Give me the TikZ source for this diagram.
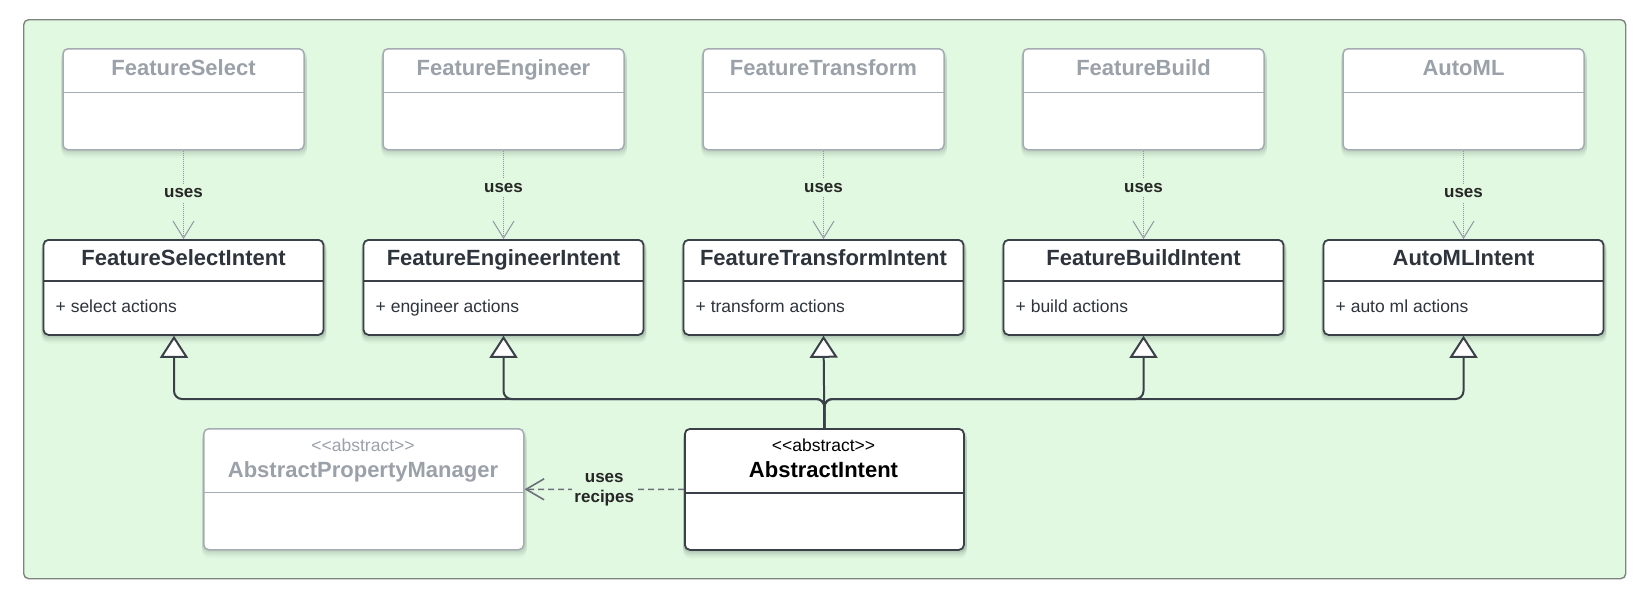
\documentclass[tikz,border=0pt]{standalone}
\usepackage{fontspec}
\setmainfont{Liberation Sans}
\usetikzlibrary{arrows.meta}
\definecolor{bggreen}{HTML}{E1F8E1}
\definecolor{framegray}{HTML}{7F8480}
\definecolor{darkline}{HTML}{3A4048}
\definecolor{lightline}{HTML}{A5ABB2}
\definecolor{titledark}{HTML}{2E343C}
\definecolor{titlegray}{HTML}{9BA1A9}
\definecolor{depgray}{HTML}{9197A0}
\definecolor{dashgray}{HTML}{6B7079}
\definecolor{shadowcol}{HTML}{34483C}
\newcommand{\stereotxt}{<\kern0pt<abstract>\kern0pt>}
\pgfdeclarelayer{bottom}
\pgfdeclarelayer{shadowlayer}
\pgfsetlayers{bottom,shadowlayer,main}
\begin{document}
\begin{tikzpicture}[x=1pt,y=-1pt,
  frame/.style={draw=framegray, line width=1.4pt, fill=bggreen, rounded corners=5pt, inner sep=0pt},
  topbox/.style={draw=lightline, line width=1.5pt, fill=white, rounded corners=5pt, inner sep=0pt,
     minimum width=241pt, minimum height=101pt},
  intbox/.style={draw=darkline, line width=1.8pt, fill=white, rounded corners=5pt, inner sep=0pt,
     minimum width=280pt, minimum height=95pt},
  shadowfill/.style={fill=shadowcol, fill opacity=#1, rounded corners=7pt},
  topdiv/.style={draw=lightline, line width=1pt},
  intdiv/.style={draw=darkline, line width=1.1pt},
  toptitle/.style={font=\fontsize{22}{26}\selectfont\bfseries, text=titlegray, inner sep=0pt},
  inttitle/.style={font=\fontsize{22}{26}\selectfont\bfseries, text=titledark, inner sep=0pt},
  attrtext/.style={font=\fontsize{17.5}{21}\selectfont, text=titledark, inner sep=0pt},
  stereo/.style={font=\fontsize{17.5}{21}\selectfont, inner sep=0pt},
  lbl/.style={font=\fontsize{17}{20}\selectfont\bfseries, text=black!85, fill=bggreen, inner sep=4pt},
  dep/.style={draw=depgray, line width=1pt, dash pattern=on 1pt off 1pt,
     -{Straight Barb[length=17pt, width=21pt]}},
  inh/.style={draw=darkline, line width=2pt, rounded corners=8pt,
     -{Triangle[length=22pt, width=28pt, fill=white]}},
  recdep/.style={draw=dashgray, line width=1.6pt, dash pattern=on 6pt off 4pt,
     -{Straight Barb[length=18pt, width=21pt]}}
]
\useasboundingbox (0,0) rectangle (1641,597);
\begin{pgfonlayer}{bottom}
\node[frame, anchor=north west, minimum width=1602pt, minimum height=559pt] (frm) at (23,19) {};
\end{pgfonlayer}

\foreach \nm/\cx/\ttl/\attr/\lp in {fs/183.5/FeatureSelect/select/0.48,
                                   fe/503.5/FeatureEngineer/engineer/0.42,
                                   ft/823.5/FeatureTransform/transform/0.42,
                                   fb/1143.5/FeatureBuild/build/0.42,
                                   am/1463.5/AutoML/auto ml/0.48} {
  \node[topbox, anchor=north] (\nm) at (\cx,48) {};
  \draw[topdiv] ([yshift=-44pt]\nm.north west) -- ([yshift=-44pt]\nm.north east);
  \node[toptitle, anchor=base] (\nm-t) at (\cx,75) {\ttl};
  \node[intbox, anchor=north] (\nm-i) at (\cx,239) {};
  \draw[intdiv] ([yshift=-42pt]\nm-i.north west) -- ([yshift=-42pt]\nm-i.north east);
  \node[inttitle, anchor=base] (\nm-it) at (\cx,265) {\ttl Intent};
  \node[attrtext, anchor=base west] (\nm-a) at (\cx-128,312) {+ \attr\ actions};
  \draw[dep] (\nm) -- node[lbl, pos=\lp] (\nm-u) {uses} (\nm-i);
}

% abstract classes
\node[topbox, anchor=north west, minimum width=320pt, minimum height=121pt] (apm) at (203,428) {};
\draw[topdiv] ([yshift=-64pt]apm.north west) -- ([yshift=-64pt]apm.north east);
\node[stereo, text=titlegray, anchor=base] (apm-s) at (363,451) {\stereotxt};
\node[toptitle, anchor=base] (apm-t) at (363,477) {AbstractPropertyManager};

\node[intbox, anchor=north west, minimum width=279pt, minimum height=121pt] (ai) at (684,428) {};
\draw[intdiv] ([yshift=-65pt]ai.north west) -- ([yshift=-65pt]ai.north east);
\node[stereo, text=black, anchor=base] (ai-s) at (823.5,451) {\stereotxt};
\node[inttitle, text=black, anchor=base] (ai-t) at (823.5,477) {AbstractIntent};

% soft shadows behind the boxes
\begin{pgfonlayer}{shadowlayer}
\foreach \n/\k in {fs/0.7,fe/0.7,ft/0.7,fb/0.7,am/0.7,apm/0.7,fs-i/1,fe-i/1,ft-i/1,fb-i/1,am-i/1,ai/1} {
  \foreach \d/\o in {1.5/0.10,3.5/0.08,5.5/0.06,7.5/0.04} {
    \fill[shadowfill=\k*\o] ([xshift=-1pt,yshift=-\d pt]\n.north west) rectangle ([xshift=2pt,yshift=-\d pt]\n.south east);
  }
}
\end{pgfonlayer}

% inheritance
\draw[inh] (ai.north) -- ++(0,-29) -| ([xshift=-9.5pt]fs-i.south);
\draw[inh] (ai.north) -- ++(0,-29) -| (fe-i.south);
\draw[inh] (ai.north) -- (ft-i.south);
\draw[inh] (ai.north) -- ++(0,-29) -| (fb-i.south);
\draw[inh] (ai.north) -- ++(0,-29) -| (am-i.south);

% uses recipes
\draw[recdep] (ai) -- node[lbl, align=center, inner sep=2pt, font=\fontsize{17}{20}\selectfont\bfseries] (ur) {uses\\recipes} (apm);
\end{tikzpicture}
\end{document}
